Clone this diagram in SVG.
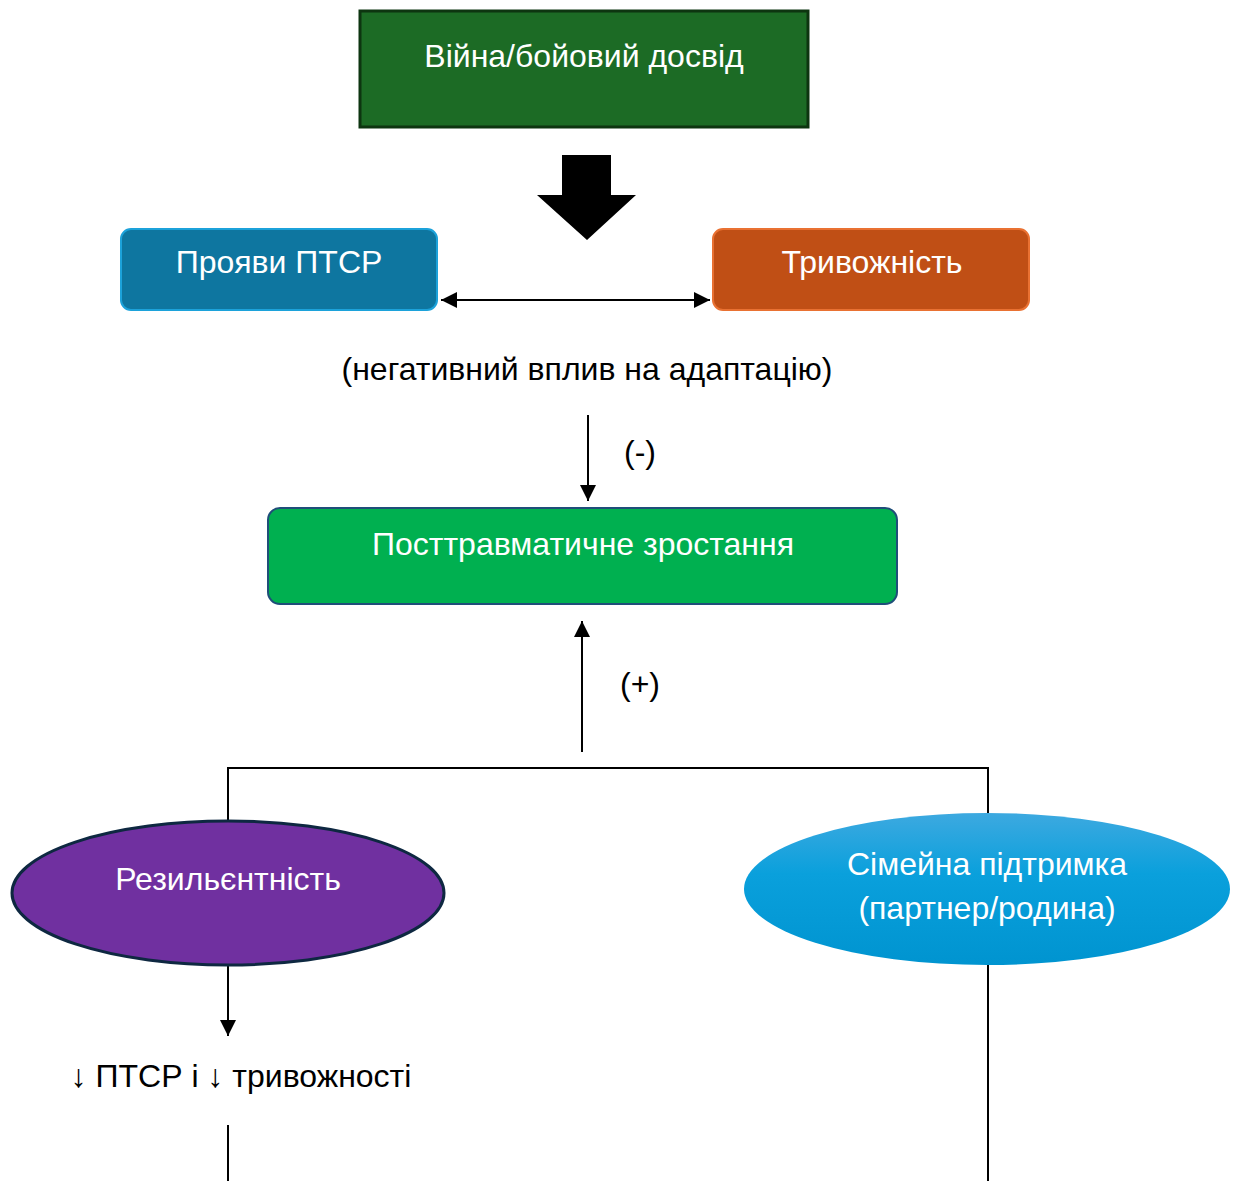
<svg xmlns="http://www.w3.org/2000/svg" width="1235" height="1185" viewBox="0 0 1235 1185">
<defs>
<style>
text{font-family:"Liberation Sans",Arial,sans-serif;font-size:32px;text-anchor:middle}
.w{fill:#ffffff}
.k{fill:#000000}
.ln{stroke:#000;stroke-width:2;fill:none}
</style>
<marker id="ah2" viewBox="0 0 10 10" refX="10" refY="5" markerWidth="16" markerHeight="16" markerUnits="userSpaceOnUse" orient="auto-start-reverse">
<path d="M0,0 L10,5 L0,10 Z" fill="#000"/>
</marker>
<linearGradient id="bg" x1="0" y1="0" x2="0" y2="1">
<stop offset="0" stop-color="#3DA9E0"/>
<stop offset="0.4" stop-color="#0AA0DC"/>
<stop offset="1" stop-color="#0094D0"/>
</linearGradient>
</defs>
<rect width="1235" height="1185" fill="#fff"/>
<g id="connectors">
<path d="M562,155 H611 V195 H636 L587,240 L537,195 H562 Z" fill="#000"/>
<line class="ln" x1="441" y1="300" x2="710" y2="300" marker-start="url(#ah2)" marker-end="url(#ah2)"/>
<line class="ln" x1="588" y1="415" x2="588" y2="501" marker-end="url(#ah2)"/>
<line class="ln" x1="582" y1="752" x2="582" y2="621" marker-end="url(#ah2)"/>
<line class="ln" x1="227" y1="768" x2="989" y2="768"/>
<line class="ln" x1="228" y1="768" x2="228" y2="821"/>
<line class="ln" x1="988" y1="768" x2="988" y2="813"/>
<line class="ln" x1="228" y1="965" x2="228" y2="1036" marker-end="url(#ah2)"/>
<line class="ln" x1="228" y1="1125" x2="228" y2="1181"/>
<line class="ln" x1="988" y1="965" x2="988" y2="1181"/>
</g>
<g id="n_war">
<rect x="360" y="11" width="448" height="116" fill="#1C6B25" stroke="#0D3510" stroke-width="3"/>
<text class="w" x="584" y="67">Війна/бойовий досвід</text>
</g>
<g id="n_ptsd">
<rect x="121" y="229" width="316" height="81" rx="10" fill="#0E76A0" stroke="#1CA2DA" stroke-width="2"/>
<text class="w" x="279" y="273">Прояви ПТСР</text>
</g>
<g id="n_anx">
<rect x="713" y="229" width="316" height="81" rx="10" fill="#C04F15" stroke="#E97132" stroke-width="2"/>
<text class="w" x="872" y="273">Тривожність</text>
</g>
<g id="n_neg">
<text class="k" x="587" y="380">(негативний вплив на адаптацію)</text>
</g>
<g id="l_minus">
<text class="k" x="640" y="463">(-)</text>
</g>
<g id="n_ptg">
<rect x="268" y="508" width="629" height="96" rx="12" fill="#00B050" stroke="#1F4E79" stroke-width="2"/>
<text class="w" x="583" y="555">Посттравматичне зростання</text>
</g>
<g id="l_plus">
<text class="k" x="640" y="695">(+)</text>
</g>
<g id="n_res">
<ellipse cx="228" cy="893" rx="216" ry="72" fill="#7030A0" stroke="#0E2841" stroke-width="3"/>
<text class="w" x="228" y="890">Резильєнтність</text>
</g>
<g id="n_fam">
<ellipse cx="987" cy="889" rx="243" ry="76" fill="url(#bg)"/>
<text class="w" x="987" y="875">Сімейна підтримка</text>
<text class="w" x="987" y="919">(партнер/родина)</text>
</g>
<g id="n_low">
<text class="k" x="241" y="1087">↓ ПТСР і ↓ тривожності</text>
</g>
</svg>
